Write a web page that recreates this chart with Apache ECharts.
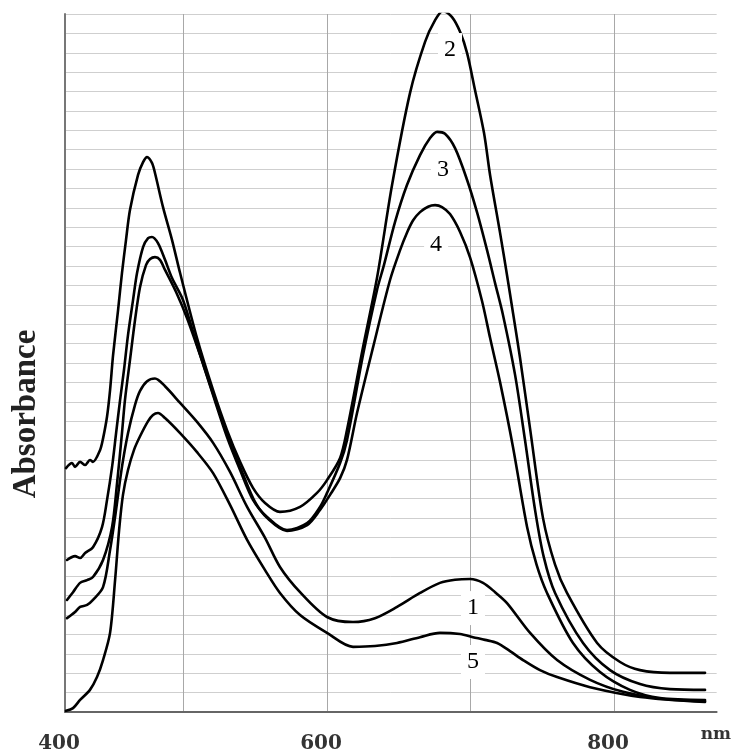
<!DOCTYPE html>
<html>
<head>
<meta charset="utf-8">
<script src="https://cdn.jsdelivr.net/npm/echarts@6/dist/echarts.min.js"></script>
<style>
html,body{margin:0;padding:0;background:#fff;}
#chart{width:734px;height:756px;}
</style>
</head>
<body>
<div id="chart"></div>
<script>
// wavelength (nm), absorbance pairs
var curve1 = [[418.8,0.242],[424.4,0.258],[427.9,0.271],[432.8,0.276],[436.9,0.289],[443.9,0.322],[448.8,0.418],[452.3,0.503],[457.1,0.632],[461.3,0.719],[466.2,0.792],[469.7,0.828],[474.6,0.853],[480.1,0.860],[487.1,0.840],[497.6,0.797],[509.4,0.748],[520.6,0.694],[532.4,0.619],[544.3,0.529],[556.8,0.449],[567.2,0.374],[581.2,0.309],[600.0,0.245],[618.1,0.232],[633.4,0.242],[648.8,0.271],[664.8,0.307],[678.7,0.333],[689.2,0.341],[699.7,0.343],[708.7,0.333],[717.1,0.309],[725.4,0.281],[741.5,0.204],[760.3,0.134],[783.3,0.083],[806.3,0.052],[832.1,0.034],[863.4,0.028]];

var curve2 = [[418.1,0.629],[422.3,0.642],[424.4,0.632],[427.9,0.645],[431.4,0.637],[434.8,0.650],[436.9,0.645],[441.8,0.675],[443.9,0.705],[446.7,0.762],[448.8,0.830],[450.9,0.920],[454.4,1.037],[457.1,1.132],[459.9,1.217],[462.7,1.295],[468.3,1.385],[471.8,1.418],[474.6,1.431],[478.0,1.416],[480.1,1.390],[485.7,1.302],[492.0,1.217],[497.6,1.132],[509.4,0.964],[520.6,0.830],[530.3,0.727],[539.4,0.645],[548.4,0.578],[556.8,0.539],[567.2,0.516],[581.2,0.529],[593.0,0.565],[600.0,0.598],[609.1,0.655],[613.9,0.727],[625.1,0.941],[634.8,1.119],[645.3,1.359],[657.8,1.596],[668.3,1.728],[675.3,1.784],[680.8,1.808],[687.1,1.792],[692.7,1.754],[697.6,1.699],[703.1,1.604],[709.4,1.493],[713.6,1.385],[720.6,1.235],[725.4,1.127],[729.6,1.029],[734.5,0.913],[741.5,0.730],[750.5,0.500],[758.9,0.380],[767.2,0.307],[788.2,0.178],[804.2,0.129],[818.1,0.108],[839.0,0.101],[863.4,0.101]];

var curve3 = [[418.8,0.392],[424.4,0.402],[427.9,0.397],[431.4,0.410],[436.9,0.425],[443.2,0.477],[446.7,0.547],[450.2,0.632],[453.0,0.719],[455.8,0.805],[458.5,0.882],[461.3,0.972],[464.8,1.062],[467.6,1.132],[471.8,1.199],[475.3,1.222],[478.0,1.225],[482.2,1.209],[487.1,1.166],[492.0,1.119],[499.7,1.062],[509.4,0.946],[520.6,0.817],[530.3,0.709],[539.4,0.624],[548.4,0.547],[558.2,0.503],[572.1,0.469],[586.1,0.487],[595.1,0.529],[600.0,0.565],[609.1,0.642],[613.9,0.701],[625.1,0.921],[634.8,1.088],[639.7,1.153],[647.4,1.264],[655.7,1.359],[664.8,1.436],[671.8,1.480],[676.7,1.496],[682.2,1.491],[689.2,1.454],[697.6,1.372],[704.5,1.289],[711.5,1.191],[717.1,1.106],[722.6,1.024],[731.0,0.870],[738.0,0.700],[745.0,0.520],[751.0,0.400],[758.9,0.307],[778.4,0.178],[797.2,0.108],[818.1,0.072],[839.0,0.059],[863.4,0.057]];

var curve4 = [[418.8,0.289],[423.0,0.309],[427.9,0.333],[432.8,0.340],[436.9,0.348],[443.9,0.392],[450.2,0.477],[453.7,0.591],[457.1,0.719],[459.2,0.805],[462.7,0.908],[466.2,1.011],[469.7,1.096],[473.9,1.153],[476.7,1.168],[480.1,1.173],[483.6,1.166],[487.1,1.140],[494.8,1.083],[502.4,1.016],[511.5,0.921],[522.0,0.805],[531.7,0.701],[540.8,0.619],[549.8,0.542],[558.9,0.498],[572.1,0.467],[586.1,0.482],[595.1,0.521],[602.1,0.560],[609.1,0.603],[613.9,0.650],[620.9,0.771],[632.1,0.941],[643.9,1.114],[650.9,1.191],[655.7,1.236],[660.0,1.268],[664.8,1.289],[670.4,1.303],[675.3,1.307],[680.1,1.302],[685.7,1.284],[692.7,1.238],[699.7,1.172],[708.0,1.060],[713.6,0.965],[720.6,0.850],[729.6,0.683],[739.4,0.477],[746.0,0.380],[753.3,0.307],[771.4,0.178],[790.2,0.103],[811.1,0.057],[832.1,0.036],[863.4,0.031]];

var curve5 = [[418.1,0.003],[423.0,0.010],[427.9,0.031],[434.8,0.057],[439.7,0.090],[443.9,0.134],[448.8,0.204],[452.3,0.340],[455.1,0.469],[457.8,0.560],[461.3,0.624],[465.5,0.676],[469.7,0.711],[475.3,0.750],[478.7,0.766],[482.2,0.771],[487.1,0.758],[497.6,0.719],[509.4,0.670],[520.6,0.616],[532.4,0.534],[544.3,0.444],[556.8,0.366],[567.2,0.307],[581.2,0.250],[600.0,0.204],[618.1,0.168],[633.4,0.170],[648.8,0.178],[664.8,0.193],[678.7,0.204],[692.7,0.201],[701.7,0.193],[710.1,0.186],[718.5,0.178],[727.5,0.157],[736.6,0.134],[748.4,0.108],[760.3,0.090],[783.3,0.064],[818.1,0.039],[863.4,0.026]];

// curve number labels and where they sit (nm, absorbance)
var curveNames = ['1', '2', '3', '4', '5'];
var labelPos = [[701.7,0.268],[685.7,1.707],[680.8,1.398],[676.0,1.204],[701.7,0.129]];

// axis tick labels
var xTickLabels = {min: '400', 600: '600', 800: '800'};
var xMin = 417.4, xMax = 871.5, yMin = 0, yMax = 1.8, yStep = 0.05;

var curves = [curve1, curve2, curve3, curve4, curve5];

var chart = echarts.init(document.getElementById('chart'), null, {renderer: 'canvas'});

var series = curves.map(function (c, i) {
  return {
    type: 'line',
    name: curveNames[i],
    data: c,
    showSymbol: false,
    smooth: 0.3,
    lineStyle: {color: '#000', width: 2.6, join: 'round', cap: 'round'},
    z: 3,
    markPoint: {
      symbol: 'rect',
      symbolSize: 1,
      itemStyle: {color: 'rgba(0,0,0,0)'},
      label: {
        show: true,
        position: 'inside',
        formatter: curveNames[i],
        fontFamily: 'Liberation Serif',
        fontSize: 24,
        color: '#000',
        backgroundColor: '#fff',
        padding: [6, 6, 4, 6]
      },
      data: [{coord: labelPos[i]}]
    }
  };
});

var ySplitColors = [];
for (var k = 0; k < 38; k++) ySplitColors.push(k === 0 ? 'rgba(0,0,0,0)' : '#cfcfcf');

chart.setOption({
  backgroundColor: '#fff',
  animation: false,
  grid: {left: 65, right: 17, top: 14, bottom: 44, containLabel: false},
  xAxis: {
    type: 'value',
    min: xMin,
    max: xMax,
    name: 'nm',
    nameLocation: 'end',
    nameGap: -16,
    nameTextStyle: {fontFamily: 'DejaVu Serif', fontWeight: 'bold', fontSize: 17, color: '#333', verticalAlign: 'top', padding: [14, 0, 0, 0]},
    axisLine: {show: true, lineStyle: {color: '#666', width: 2}},
    axisTick: {show: false},
    axisLabel: {
      show: true,
      margin: 22,
      fontFamily: 'DejaVu Serif',
      fontWeight: 'bold',
      fontSize: 20,
      color: '#333',
      padding: [0, 12, 0, 0],
      showMinLabel: true,
      showMaxLabel: true,
      formatter: function (v) {
        if (Math.abs(v - xMin) < 0.01) return xTickLabels.min;
        return xTickLabels[Math.round(v)] && Math.abs(v - Math.round(v)) < 0.01 ? xTickLabels[Math.round(v)] : '';
      }
    },
    splitLine: {show: true, lineStyle: {color: ['rgba(0,0,0,0)', '#a8a8a8', '#a8a8a8', '#a8a8a8', '#a8a8a8', 'rgba(0,0,0,0)'], width: 1}}
  },
  yAxis: {
    type: 'value',
    min: yMin,
    max: yMax,
    interval: yStep,
    name: 'Absorbance',
    nameLocation: 'middle',
    nameGap: 22,
    nameTextStyle: {fontFamily: 'Liberation Serif', fontWeight: 'bold', fontSize: 33, color: '#222', padding: [0, 102, 0, 0]},
    axisLine: {show: true, lineStyle: {color: '#777', width: 2}},
    axisTick: {show: false},
    axisLabel: {show: false},
    splitLine: {show: true, lineStyle: {color: ySplitColors, width: 1}}
  },
  series: series
});
</script>
</body>
</html>
